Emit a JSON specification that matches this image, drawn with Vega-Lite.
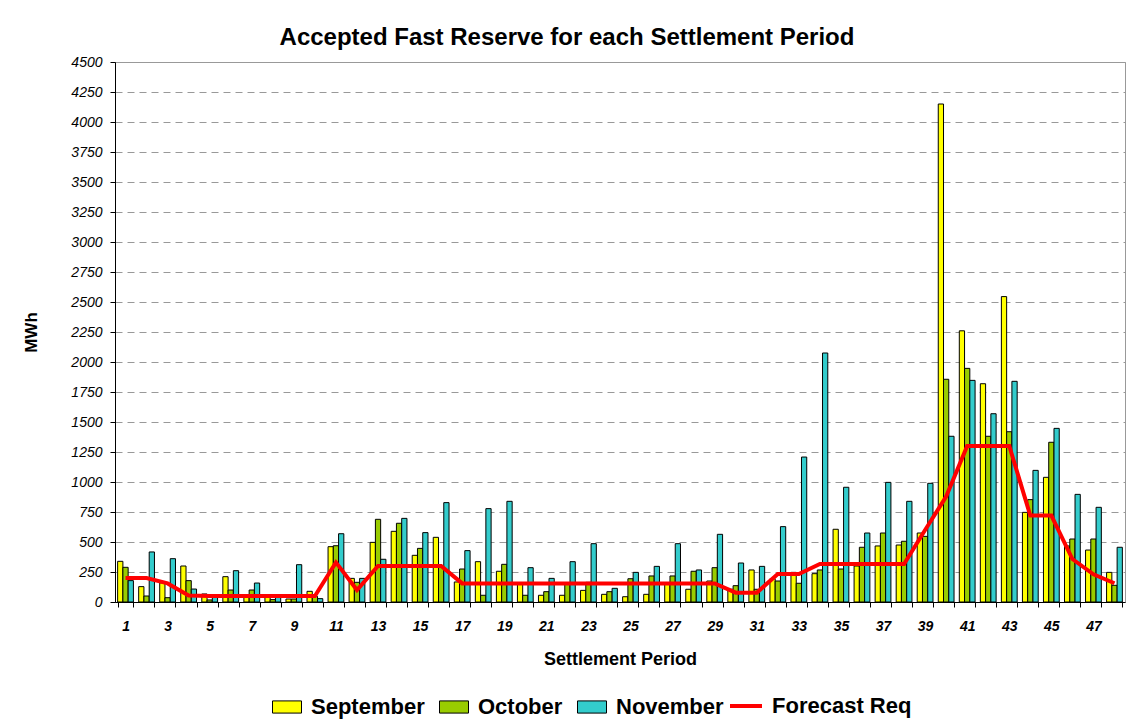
{
  "$schema": "https://vega.github.io/schema/vega-lite/v6.json",
  "width": 1010,
  "height": 540,
  "autosize": {"type": "none"},
  "padding": {"left": 115, "top": 62, "right": 7, "bottom": 124},
  "background": "white",
  "title": {
    "text": "Accepted Fast Reserve for each Settlement Period",
    "font": "Liberation Sans",
    "fontSize": 24,
    "fontWeight": "bold",
    "color": "black",
    "anchor": "middle",
    "frame": "group",
    "dx": -53,
    "offset": 5
  },
  "config": {
    "font": "Liberation Sans",
    "view": {"stroke": "#999999", "strokeWidth": 1},
    "axisX": {
      "titleFont": "Liberation Sans",
      "titleFontSize": 18,
      "titleFontWeight": "bold",
      "titleColor": "black",
      "titlePadding": 17,
      "labelAngle": 0,
      "labelFont": "Liberation Sans",
      "labelFontSize": 14,
      "labelFontStyle": "italic",
      "labelFontWeight": "bold",
      "labelColor": "black",
      "labelPadding": 12,
      "labelOverlap": false,
      "tickBand": "extent",
      "tickSize": 5,
      "tickColor": "black",
      "domainColor": "black",
      "grid": false
    },
    "axisY": {
      "titleFont": "Liberation Sans",
      "titleFontSize": 17,
      "titleFontWeight": "bold",
      "titleColor": "black",
      "titlePadding": 30,
      "labelOverlap": false,
      "labelFont": "Liberation Sans",
      "labelFontSize": 14,
      "labelFontStyle": "italic",
      "labelColor": "black",
      "labelPadding": 8,
      "tickSize": 5,
      "tickColor": "black",
      "domainColor": "black",
      "grid": true,
      "gridColor": "#999999",
      "gridDash": [7, 5],
      "gridWidth": 1
    }
  },
  "datasets": {
    "bars": [
      {"period": 1, "series": "September", "value": 339}, {"period": 1, "series": "October", "value": 289}, {"period": 1, "series": "November", "value": 178},
      {"period": 2, "series": "September", "value": 128}, {"period": 2, "series": "October", "value": 50}, {"period": 2, "series": "November", "value": 417},
      {"period": 3, "series": "September", "value": 160}, {"period": 3, "series": "October", "value": 36}, {"period": 3, "series": "November", "value": 361},
      {"period": 4, "series": "September", "value": 300}, {"period": 4, "series": "October", "value": 178}, {"period": 4, "series": "November", "value": 108},
      {"period": 5, "series": "September", "value": 67}, {"period": 5, "series": "October", "value": 17}, {"period": 5, "series": "November", "value": 47},
      {"period": 6, "series": "September", "value": 211}, {"period": 6, "series": "October", "value": 100}, {"period": 6, "series": "November", "value": 261},
      {"period": 7, "series": "September", "value": 47}, {"period": 7, "series": "October", "value": 100}, {"period": 7, "series": "November", "value": 158},
      {"period": 8, "series": "September", "value": 40}, {"period": 8, "series": "October", "value": 20}, {"period": 8, "series": "November", "value": 40},
      {"period": 9, "series": "September", "value": 25}, {"period": 9, "series": "October", "value": 25}, {"period": 9, "series": "November", "value": 311},
      {"period": 10, "series": "September", "value": 89}, {"period": 10, "series": "October", "value": 47}, {"period": 10, "series": "November", "value": 28},
      {"period": 11, "series": "September", "value": 461}, {"period": 11, "series": "October", "value": 469}, {"period": 11, "series": "November", "value": 569},
      {"period": 12, "series": "September", "value": 197}, {"period": 12, "series": "October", "value": 164}, {"period": 12, "series": "November", "value": 197},
      {"period": 13, "series": "September", "value": 497}, {"period": 13, "series": "October", "value": 689}, {"period": 13, "series": "November", "value": 356},
      {"period": 14, "series": "September", "value": 589}, {"period": 14, "series": "October", "value": 656}, {"period": 14, "series": "November", "value": 697},
      {"period": 15, "series": "September", "value": 389}, {"period": 15, "series": "October", "value": 447}, {"period": 15, "series": "November", "value": 578},
      {"period": 16, "series": "September", "value": 539}, {"period": 16, "series": "October", "value": 290}, {"period": 16, "series": "November", "value": 828},
      {"period": 17, "series": "September", "value": 167}, {"period": 17, "series": "October", "value": 275}, {"period": 17, "series": "November", "value": 428},
      {"period": 18, "series": "September", "value": 336}, {"period": 18, "series": "October", "value": 56}, {"period": 18, "series": "November", "value": 778},
      {"period": 19, "series": "September", "value": 256}, {"period": 19, "series": "October", "value": 314}, {"period": 19, "series": "November", "value": 839},
      {"period": 20, "series": "September", "value": 160}, {"period": 20, "series": "October", "value": 56}, {"period": 20, "series": "November", "value": 286},
      {"period": 21, "series": "September", "value": 56}, {"period": 21, "series": "October", "value": 86}, {"period": 21, "series": "November", "value": 197},
      {"period": 22, "series": "September", "value": 56}, {"period": 22, "series": "October", "value": 150}, {"period": 22, "series": "November", "value": 336},
      {"period": 23, "series": "September", "value": 97}, {"period": 23, "series": "October", "value": 164}, {"period": 23, "series": "November", "value": 486},
      {"period": 24, "series": "September", "value": 64}, {"period": 24, "series": "October", "value": 86}, {"period": 24, "series": "November", "value": 114},
      {"period": 25, "series": "September", "value": 44}, {"period": 25, "series": "October", "value": 194}, {"period": 25, "series": "November", "value": 247},
      {"period": 26, "series": "September", "value": 64}, {"period": 26, "series": "October", "value": 217}, {"period": 26, "series": "November", "value": 297},
      {"period": 27, "series": "September", "value": 150}, {"period": 27, "series": "October", "value": 217}, {"period": 27, "series": "November", "value": 486},
      {"period": 28, "series": "September", "value": 106}, {"period": 28, "series": "October", "value": 256}, {"period": 28, "series": "November", "value": 267},
      {"period": 29, "series": "September", "value": 175}, {"period": 29, "series": "October", "value": 286}, {"period": 29, "series": "November", "value": 564},
      {"period": 30, "series": "September", "value": 106}, {"period": 30, "series": "October", "value": 136}, {"period": 30, "series": "November", "value": 325},
      {"period": 31, "series": "September", "value": 267}, {"period": 31, "series": "October", "value": 106}, {"period": 31, "series": "November", "value": 297},
      {"period": 32, "series": "September", "value": 194}, {"period": 32, "series": "October", "value": 175}, {"period": 32, "series": "November", "value": 628},
      {"period": 33, "series": "September", "value": 247}, {"period": 33, "series": "October", "value": 156}, {"period": 33, "series": "November", "value": 1208},
      {"period": 34, "series": "September", "value": 236}, {"period": 34, "series": "October", "value": 267}, {"period": 34, "series": "November", "value": 2075},
      {"period": 35, "series": "September", "value": 606}, {"period": 35, "series": "October", "value": 275}, {"period": 35, "series": "November", "value": 956},
      {"period": 36, "series": "September", "value": 300}, {"period": 36, "series": "October", "value": 456}, {"period": 36, "series": "November", "value": 575},
      {"period": 37, "series": "September", "value": 467}, {"period": 37, "series": "October", "value": 575}, {"period": 37, "series": "November", "value": 997},
      {"period": 38, "series": "September", "value": 475}, {"period": 38, "series": "October", "value": 506}, {"period": 38, "series": "November", "value": 839},
      {"period": 39, "series": "September", "value": 575}, {"period": 39, "series": "October", "value": 547}, {"period": 39, "series": "November", "value": 989},
      {"period": 40, "series": "September", "value": 4150}, {"period": 40, "series": "October", "value": 1856}, {"period": 40, "series": "November", "value": 1381},
      {"period": 41, "series": "September", "value": 2260}, {"period": 41, "series": "October", "value": 1947}, {"period": 41, "series": "November", "value": 1847},
      {"period": 42, "series": "September", "value": 1819}, {"period": 42, "series": "October", "value": 1381}, {"period": 42, "series": "November", "value": 1569},
      {"period": 43, "series": "September", "value": 2545}, {"period": 43, "series": "October", "value": 1419}, {"period": 43, "series": "November", "value": 1839},
      {"period": 44, "series": "September", "value": 747}, {"period": 44, "series": "October", "value": 853}, {"period": 44, "series": "November", "value": 1097},
      {"period": 45, "series": "September", "value": 1039}, {"period": 45, "series": "October", "value": 1331}, {"period": 45, "series": "November", "value": 1447},
      {"period": 46, "series": "September", "value": 467}, {"period": 46, "series": "October", "value": 525}, {"period": 46, "series": "November", "value": 897},
      {"period": 47, "series": "September", "value": 433}, {"period": 47, "series": "October", "value": 525}, {"period": 47, "series": "November", "value": 789},
      {"period": 48, "series": "September", "value": 247}, {"period": 48, "series": "October", "value": 139}, {"period": 48, "series": "November", "value": 456}
    ],
    "forecast": [
      {"period": 1, "name": "Forecast Req", "req": 200}, {"period": 2, "name": "Forecast Req", "req": 200},
      {"period": 3, "name": "Forecast Req", "req": 155}, {"period": 4, "name": "Forecast Req", "req": 55},
      {"period": 5, "name": "Forecast Req", "req": 50}, {"period": 6, "name": "Forecast Req", "req": 50},
      {"period": 7, "name": "Forecast Req", "req": 50}, {"period": 8, "name": "Forecast Req", "req": 50},
      {"period": 9, "name": "Forecast Req", "req": 50}, {"period": 10, "name": "Forecast Req", "req": 50},
      {"period": 11, "name": "Forecast Req", "req": 330}, {"period": 12, "name": "Forecast Req", "req": 100},
      {"period": 13, "name": "Forecast Req", "req": 300}, {"period": 14, "name": "Forecast Req", "req": 300},
      {"period": 15, "name": "Forecast Req", "req": 300}, {"period": 16, "name": "Forecast Req", "req": 300},
      {"period": 17, "name": "Forecast Req", "req": 155}, {"period": 18, "name": "Forecast Req", "req": 155},
      {"period": 19, "name": "Forecast Req", "req": 155}, {"period": 20, "name": "Forecast Req", "req": 155},
      {"period": 21, "name": "Forecast Req", "req": 155}, {"period": 22, "name": "Forecast Req", "req": 155},
      {"period": 23, "name": "Forecast Req", "req": 155}, {"period": 24, "name": "Forecast Req", "req": 155},
      {"period": 25, "name": "Forecast Req", "req": 155}, {"period": 26, "name": "Forecast Req", "req": 155},
      {"period": 27, "name": "Forecast Req", "req": 155}, {"period": 28, "name": "Forecast Req", "req": 155},
      {"period": 29, "name": "Forecast Req", "req": 155}, {"period": 30, "name": "Forecast Req", "req": 78},
      {"period": 31, "name": "Forecast Req", "req": 78}, {"period": 32, "name": "Forecast Req", "req": 233},
      {"period": 33, "name": "Forecast Req", "req": 233}, {"period": 34, "name": "Forecast Req", "req": 317},
      {"period": 35, "name": "Forecast Req", "req": 317}, {"period": 36, "name": "Forecast Req", "req": 317},
      {"period": 37, "name": "Forecast Req", "req": 317}, {"period": 38, "name": "Forecast Req", "req": 317},
      {"period": 39, "name": "Forecast Req", "req": 600}, {"period": 40, "name": "Forecast Req", "req": 878},
      {"period": 41, "name": "Forecast Req", "req": 1300}, {"period": 42, "name": "Forecast Req", "req": 1300},
      {"period": 43, "name": "Forecast Req", "req": 1300}, {"period": 44, "name": "Forecast Req", "req": 720},
      {"period": 45, "name": "Forecast Req", "req": 720}, {"period": 46, "name": "Forecast Req", "req": 358},
      {"period": 47, "name": "Forecast Req", "req": 231}, {"period": 48, "name": "Forecast Req", "req": 156}
    ]
  },
  "layer": [
    {
      "data": {"name": "bars"},
      "mark": {"type": "bar", "stroke": "black", "strokeWidth": 1},
      "encoding": {
        "x": {
          "field": "period",
          "type": "ordinal",
          "scale": {"paddingInner": 0.25, "paddingOuter": 0.125},
          "axis": {
            "title": "Settlement Period",
            "labelExpr": "datum.value % 2 == 1 ? datum.label : ''"
          }
        },
        "xOffset": {
          "field": "series",
          "type": "nominal",
          "sort": ["September", "October", "November"],
          "scale": {"paddingInner": 0, "paddingOuter": 0}
        },
        "y": {
          "field": "value",
          "type": "quantitative",
          "stack": null,
          "scale": {"domain": [0, 4500], "nice": false},
          "axis": {
            "title": "MWh",
            "values": [0, 250, 500, 750, 1000, 1250, 1500, 1750, 2000, 2250, 2500, 2750, 3000, 3250, 3500, 3750, 4000, 4250, 4500],
            "format": "d"
          }
        },
        "fill": {
          "field": "series",
          "type": "nominal",
          "scale": {
            "domain": ["September", "October", "November"],
            "range": ["#FFFF00", "#99CC00", "#33CCCC"]
          },
          "legend": {
            "title": null,
            "orient": "none",
            "direction": "horizontal",
            "columns": 3,
            "legendX": 157,
            "legendY": 630,
            "symbolType": "M-1,-0.42H1V0.42H-1Z",
            "symbolSize": 841,
            "symbolStrokeColor": "black",
            "symbolStrokeWidth": 1,
            "symbolOpacity": 1,
            "labelFont": "Liberation Sans",
            "labelFontSize": 22,
            "labelFontWeight": "bold",
            "labelColor": "black",
            "labelOffset": 9,
            "columnPadding": 12,
            "labelLimit": 300
          }
        }
      }
    },
    {
      "data": {"name": "forecast"},
      "mark": {"type": "line", "strokeWidth": 4},
      "encoding": {
        "x": {
          "field": "period",
          "type": "ordinal",
          "axis": {
            "title": "Settlement Period",
            "labelExpr": "datum.value % 2 == 1 ? datum.label : ''"
          }
        },
        "y": {
          "field": "req",
          "type": "quantitative",
          "axis": {
            "title": "MWh",
            "values": [0, 250, 500, 750, 1000, 1250, 1500, 1750, 2000, 2250, 2500, 2750, 3000, 3250, 3500, 3750, 4000, 4250, 4500],
            "format": "d"
          }
        },
        "stroke": {
          "field": "name",
          "type": "nominal",
          "scale": {"domain": ["Forecast Req"], "range": ["#FF0000"]},
          "legend": {
            "title": null,
            "orient": "none",
            "direction": "horizontal",
            "legendX": 613,
            "legendY": 626,
            "symbolType": "stroke",
            "symbolSize": 1024,
            "symbolStrokeWidth": 4,
            "labelFont": "Liberation Sans",
            "labelFontSize": 22,
            "labelFontWeight": "bold",
            "labelColor": "black",
            "labelOffset": 8,
            "labelLimit": 300
          }
        }
      }
    }
  ]
}
